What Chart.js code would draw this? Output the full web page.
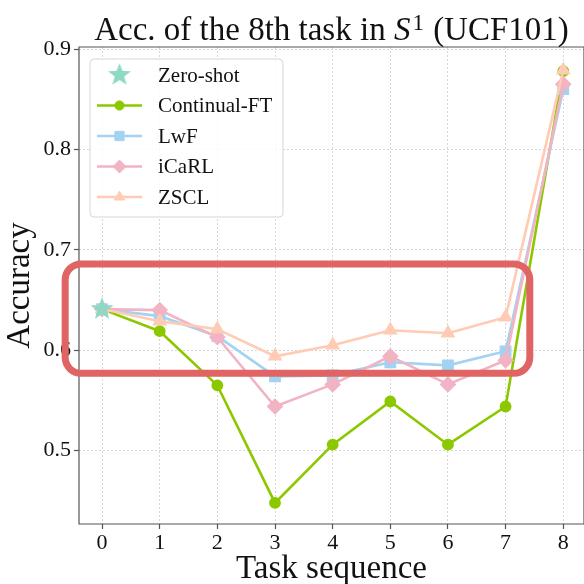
<!DOCTYPE html>
<html>
<head>
<meta charset="utf-8">
<script src="https://cdn.jsdelivr.net/npm/chart.js@4.4.1/dist/chart.umd.min.js"></script>
<style>
  html, body { margin: 0; padding: 0; background: #fff; }
  canvas { display: block; }
</style>
</head>
<body>
<canvas id="mycanvas" width="584" height="584"></canvas>
<script>
// task index on the x axis
var tasks = [0, 1, 2, 3, 4, 5, 6, 7, 8];
var xTicks = [0, 1, 2, 3, 4, 5, 6, 7, 8];
var yTicks = [0.5, 0.6, 0.7, 0.8, 0.9];

// accuracy of the 8th task after each step
var zeroShot = [0.641];
var continualFT = [0.641, 0.619, 0.565, 0.448, 0.506, 0.549, 0.506, 0.544, 0.878];
var lwf = [0.641, 0.634, 0.614, 0.574, 0.575, 0.588, 0.585, 0.599, 0.860];
var icarl = [0.641, 0.640, 0.613, 0.544, 0.566, 0.594, 0.566, 0.590, 0.865];
var zscl = [0.641, 0.629, 0.621, 0.594, 0.605, 0.620, 0.617, 0.633, 0.879];

// highlighted region (data units)
var boxX = [-0.64, 7.42];
var boxY = [0.577, 0.686];

var serif = "'Liberation Serif', 'DejaVu Serif', serif";

function pts(vals) {
	var out = [];
	for (var i in vals) {
		out.push({x: tasks[i], y: vals[i]});
	}
	return out;
}

// filled five point star for the zero-shot marker
function makeStar(r, color) {
	var c = document.createElement('canvas');
	c.width = r * 2 + 2;
	c.height = r * 2 + 2;
	var g = c.getContext('2d');
	g.translate(r + 1, r + 1);
	g.beginPath();
	for (var k = 0; k < 10; k++) {
		var rad = k % 2 === 0 ? r : r * 0.42;
		var a = -Math.PI / 2 + k * Math.PI / 5;
		g.lineTo(Math.cos(a) * rad, Math.sin(a) * rad);
	}
	g.closePath();
	g.fillStyle = color;
	g.fill();
	return c;
}
var star = makeStar(12, '#8dd9c3');

var green = '#8cc800';
var blue = '#a3d2f2';
var pink = '#f2b3c2';
var peach = '#ffcbb4';

var chartdata = {
	datasets: [
		{
			label: 'Zero-shot',
			data: pts(zeroShot),
			showLine: false,
			pointStyle: star,
			backgroundColor: '#8dd9c3',
			borderColor: '#8dd9c3',
			order: 0
		},
		{
			label: 'Continual-FT',
			data: pts(continualFT),
			borderColor: green,
			backgroundColor: green,
			borderWidth: 2.6,
			pointStyle: 'circle',
			pointRadius: 4.6,
			order: 4
		},
		{
			label: 'LwF',
			data: pts(lwf),
			borderColor: blue,
			backgroundColor: blue,
			borderWidth: 2.6,
			pointStyle: 'rect',
			pointRadius: 6.5,
			order: 3
		},
		{
			label: 'iCaRL',
			data: pts(icarl),
			borderColor: pink,
			backgroundColor: pink,
			borderWidth: 2.6,
			pointStyle: 'rectRot',
			pointRadius: 6.5,
			order: 2
		},
		{
			label: 'ZSCL',
			data: pts(zscl),
			borderColor: peach,
			backgroundColor: peach,
			borderWidth: 2.6,
			pointStyle: 'triangle',
			pointRadius: 6,
			order: 1
		}
	]
};

// spines, title, legend box, red highlight
var extras = {
	id: 'extras',
	afterDatasetsDraw: function(chart) {
		var ctx = chart.ctx;
		var a = chart.chartArea;
		var xs = chart.scales.x, ys = chart.scales.y;

		ctx.save();
		ctx.strokeStyle = '#555';
		ctx.lineWidth = 1.2;
		ctx.setLineDash([]);
		ctx.beginPath();
		ctx.moveTo(a.left, a.top);
		ctx.lineTo(a.right, a.top);
		ctx.lineTo(a.right, a.bottom);
		ctx.lineTo(a.left, a.bottom);
		ctx.closePath();
		ctx.stroke();
		ctx.restore();

		// legend
		ctx.save();
		var lx = 90, ly = 59, lw = 193, lh = 158;
		ctx.beginPath();
		ctx.roundRect(lx, ly, lw, lh, 4);
		ctx.fillStyle = 'rgba(255,255,255,0.85)';
		ctx.fill();
		ctx.strokeStyle = '#d6d6d6';
		ctx.lineWidth = 1;
		ctx.stroke();
		ctx.font = '21px ' + serif;
		ctx.textBaseline = 'middle';
		ctx.textAlign = 'left';
		var rowY = 75;
		chart.data.datasets.forEach(function(ds, i) {
			var y = rowY + i * 30.5;
			if (ds.showLine !== false) {
				ctx.strokeStyle = ds.borderColor;
				ctx.lineWidth = 2.6;
				ctx.beginPath();
				ctx.moveTo(97, y);
				ctx.lineTo(142, y);
				ctx.stroke();
			}
			if (ds.pointStyle === star) {
				ctx.drawImage(star, 119.5 - star.width / 2, y - star.height / 2);
			} else {
				ctx.fillStyle = ds.backgroundColor;
				ctx.strokeStyle = ds.borderColor;
				ctx.lineWidth = 1;
				Chart.helpers.drawPoint(ctx, {pointStyle: ds.pointStyle, radius: ds.pointRadius, rotation: 0, borderWidth: 1}, 119.5, y);
			}
			ctx.fillStyle = '#111';
			ctx.fillText(ds.label, 158, y + 1);
		});
		ctx.restore();

		// red highlight box
		ctx.save();
		var x0 = xs.getPixelForValue(boxX[0]), x1 = xs.getPixelForValue(boxX[1]);
		var y0 = ys.getPixelForValue(boxY[1]), y1 = ys.getPixelForValue(boxY[0]);
		ctx.beginPath();
		ctx.roundRect(x0, y0, x1 - x0, y1 - y0, 16);
		ctx.strokeStyle = '#e06464';
		ctx.lineWidth = 7;
		ctx.stroke();
		ctx.restore();

		// title with math S^1
		ctx.save();
		ctx.fillStyle = '#111';
		ctx.textBaseline = 'alphabetic';
		var p1 = 'Acc. of the 8th task in ';
		var p3 = ' (UCF101)';
		ctx.font = '33px ' + serif;
		var w1 = ctx.measureText(p1).width;
		var w3 = ctx.measureText(p3).width;
		ctx.font = 'italic 33px ' + serif;
		var w2 = ctx.measureText('S').width + 2;
		ctx.font = '23px ' + serif;
		var wsup = ctx.measureText('1').width + 1;
		var total = w1 + w2 + wsup + w3;
		var cx = (a.left + a.right) / 2;
		var x = cx - total / 2;
		var base = 39.5;
		ctx.font = '33px ' + serif;
		ctx.fillText(p1, x, base);
		x += w1;
		ctx.font = 'italic 33px ' + serif;
		ctx.fillText('S', x, base);
		x += w2;
		ctx.font = '23px ' + serif;
		ctx.fillText('1', x, base - 10);
		x += wsup;
		ctx.font = '33px ' + serif;
		ctx.fillText(p3, x, base);
		ctx.restore();
	}
};

var ctx = document.getElementById('mycanvas');

var gridOpts = {
	color: 'rgba(0,0,0,0.16)',
	tickColor: '#555',
	tickLength: 5,
	tickWidth: 1.2,
	tickBorderDash: []
};

var LineGraph = new Chart(ctx, {
	type: 'line',
	data: chartdata,
	plugins: [extras],
	options: {
		responsive: false,
		animation: false,
		layout: {autoPadding: false, padding: {top: 47, left: 0, right: 0, bottom: 0}},
		plugins: {
			legend: {display: false},
			title: {display: false},
			tooltip: {enabled: false}
		},
		scales: {
			x: {
				type: 'linear',
				min: -0.4,
				max: 8.36,
				afterFit: function(s) {
					s.height = 60;
					s.paddingRight = 0;
					s.paddingLeft = 0;
				},
				afterBuildTicks: function(s) {
					s.ticks = xTicks.map(function(v) { return {value: v}; });
				},
				ticks: {
					font: {family: serif, size: 22},
					color: '#111',
					padding: 1,
					maxRotation: 0,
					callback: function(v) { return String(v); }
				},
				grid: gridOpts,
				border: {display: false, dash: [2, 2]},
				title: {
					display: true,
					text: 'Task sequence',
					font: {family: serif, size: 33},
					color: '#111',
					padding: {top: 0, bottom: -5}
				}
			},
			y: {
				min: 0.427,
				max: 0.902,
				afterFit: function(s) {
					s.width = 79;
					s.paddingTop = 0;
					s.paddingBottom = 0;
				},
				afterBuildTicks: function(s) {
					s.ticks = yTicks.map(function(v) { return {value: v}; });
				},
				ticks: {
					font: {family: serif, size: 22},
					color: '#111',
					padding: 3,
					callback: function(v) { return v.toFixed(1); }
				},
				grid: gridOpts,
				border: {display: false, dash: [2, 2]},
				title: {
					display: true,
					text: 'Accuracy',
					font: {family: serif, size: 33},
					color: '#111',
					padding: {top: 1, bottom: 0}
				}
			}
		}
	}
});
</script>
</body>
</html>
